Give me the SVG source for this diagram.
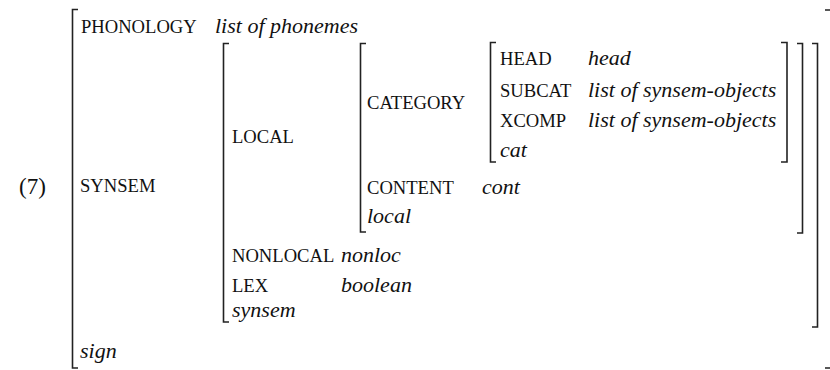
<svg xmlns="http://www.w3.org/2000/svg" width="830" height="370" viewBox="0 0 830 370" font-family="Liberation Serif, serif">
<style>
  .br{fill:none;stroke:#222;stroke-width:1.6}
  .a{font-size:18.6px;fill:#111}
  .v{font-size:22px;font-style:italic;fill:#111}
  .n{font-size:23px;fill:#111}
</style>
<rect width="830" height="370" fill="#fff"/>
<text class="n" x="19" y="194" style="font-family:'Liberation Serif',serif">(7)</text>

<g id="sign-avm">
  <path class="br" d="M78,9.5 H72.5 V368 H78"/>
  <path class="br" d="M825,10 H831.5 V368 H825"/>
  <text class="a" x="81" y="33" style="font-family:'Liberation Serif',serif">PHONOLOGY</text>
  <text class="v" x="215" y="33" style="font-family:'Liberation Serif',serif">list of phonemes</text>
  <text class="a" x="80" y="192" style="font-family:'Liberation Serif',serif">SYNSEM</text>
  <text class="v" x="80" y="358" style="font-family:'Liberation Serif',serif">sign</text>
</g>

<g id="synsem-avm">
  <path class="br" d="M229,43.5 H223.5 V322 H229"/>
  <path class="br" d="M812,43.5 H817.5 V327 H812"/>
  <text class="a" x="232" y="143" style="font-family:'Liberation Serif',serif">LOCAL</text>
  <text class="a" x="232" y="262" style="font-family:'Liberation Serif',serif">NONLOCAL</text>
  <text class="v" x="341" y="262" style="font-family:'Liberation Serif',serif">nonloc</text>
  <text class="a" x="232" y="292" style="font-family:'Liberation Serif',serif">LEX</text>
  <text class="v" x="341" y="292" style="font-family:'Liberation Serif',serif">boolean</text>
  <text class="v" x="232" y="317" style="font-family:'Liberation Serif',serif">synsem</text>
</g>

<g id="local-avm">
  <path class="br" d="M366,43.5 H360.5 V232 H366"/>
  <path class="br" d="M797,43.5 H802.5 V233 H797"/>
  <text class="a" x="367" y="109" style="font-family:'Liberation Serif',serif">CATEGORY</text>
  <text class="a" x="367" y="194" style="font-family:'Liberation Serif',serif">CONTENT</text>
  <text class="v" x="482" y="194" style="font-family:'Liberation Serif',serif">cont</text>
  <text class="v" x="367" y="223" style="font-family:'Liberation Serif',serif">local</text>
</g>

<g id="cat-avm">
  <path class="br" d="M496,42.5 H490.5 V162 H496"/>
  <path class="br" d="M781,42.5 H787 V162 H781"/>
  <text class="a" x="500" y="65" style="font-family:'Liberation Serif',serif">HEAD</text>
  <text class="v" x="588" y="65" style="font-family:'Liberation Serif',serif">head</text>
  <text class="a" x="500" y="97" style="font-family:'Liberation Serif',serif">SUBCAT</text>
  <text class="v" x="588" y="97" style="font-family:'Liberation Serif',serif">list of synsem-objects</text>
  <text class="a" x="500" y="127" style="font-family:'Liberation Serif',serif">XCOMP</text>
  <text class="v" x="588" y="127" style="font-family:'Liberation Serif',serif">list of synsem-objects</text>
  <text class="v" x="500" y="157" style="font-family:'Liberation Serif',serif">cat</text>
</g>
</svg>
